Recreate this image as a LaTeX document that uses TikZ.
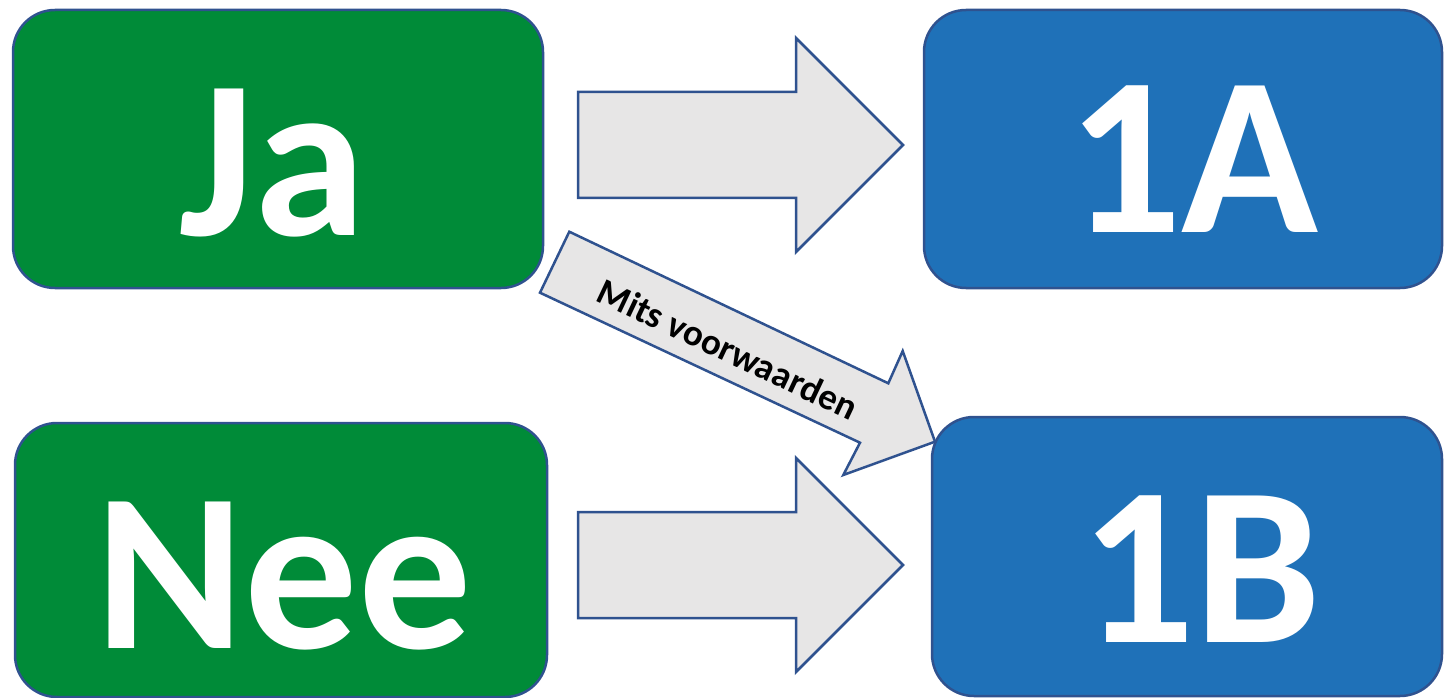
\documentclass[tikz,border=0pt]{standalone}
\usepackage{fontspec}
\setmainfont{Carlito}
\definecolor{boxgreen}{RGB}{0,139,56}
\definecolor{boxblue}{RGB}{31,113,184}
\definecolor{outl}{RGB}{47,82,143}
\definecolor{arrfill}{RGB}{231,230,230}
\tikzset{
  box/.style={draw=outl, line width=2.5pt, rounded corners=42pt, fill=#1, inner sep=0pt},
  bigtxt/.style={text=white, font=\fontsize{226}{226}\selectfont\bfseries, inner sep=0pt, anchor=base},
  blockarrow/.style={draw=outl, line width=2.5pt, fill=arrfill, line join=miter},
  smalltxt/.style={text=black, font=\fontsize{37}{37}\selectfont\bfseries, inner sep=0pt}
}
\begin{document}
\begin{tikzpicture}[x=1pt,y=-1pt]
\useasboundingbox (0,0) rectangle (1444,698);
% boxes
\node[box=boxgreen, minimum width=530pt, minimum height=278pt] (ja) at (278,149) {};
\node[box=boxgreen, minimum width=532pt, minimum height=274pt] (nee) at (281,560) {};
\node[box=boxblue, minimum width=518pt, minimum height=278pt] (oneA) at (1183,149) {};
\node[box=boxblue, minimum width=510pt, minimum height=279pt] (oneB) at (1187,556.5) {};
% texts
\node[bigtxt] (jatxt) at (272.5,236) {Ja};
\node[bigtxt] (neetxt) at (284,648) {Nee};
\node[bigtxt] (oneAtxt) at (1193,233) {1A};
\node[bigtxt] (oneBtxt) at (1201,642) {1B};
% block arrows
\draw[blockarrow] (578,92) -- (796,92) -- (796,38) -- (903,145) -- (796,252) -- (796,198) -- (578,198) -- cycle;
\draw[blockarrow] (578,512) -- (796,512) -- (796,458) -- (903,565) -- (796,672) -- (796,618) -- (578,618) -- cycle;
\draw[blockarrow] (569.3,231.7) -- (888.3,383.3) -- (902.7,351) -- (935,441.7) -- (843.3,475) -- (860,442.7) -- (540,292.7) -- cycle;
\node[smalltxt, rotate=-25.27] (mits) at (728,349) {Mits voorwaarden};
\end{tikzpicture}
\end{document}
